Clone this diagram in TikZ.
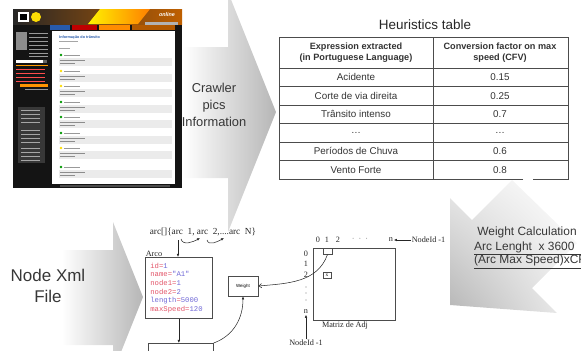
\documentclass[tikz,border=0pt]{standalone}
\usepackage{fontspec}
\setmainfont{Liberation Sans}
\newfontfamily\serifa{Liberation Serif}
\newfontfamily\monoa{Liberation Mono}
\usepackage{xcolor}
\usetikzlibrary{arrows.meta,positioning,shapes.geometric,shadings}

\definecolor{bigarrow}{RGB}{182,182,182}
\definecolor{labelgray}{RGB}{55,55,55}
\definecolor{codered}{RGB}{226,84,104}
\definecolor{codeblue}{RGB}{112,104,214}
\definecolor{webblue}{RGB}{40,90,170}

\begin{document}
\begin{tikzpicture}[x=0.3mm, y=0.3mm,
  bigtext/.style={text=labelgray, align=center},
  headcell/.style={font=\bfseries\fontsize{7.8}{9.4}\selectfont, text=black!80, align=center},
  cell/.style={font=\fontsize{8.4}{10}\selectfont, text=black!80},
  small/.style={font=\serifa\fontsize{7}{8}\selectfont, text=black!85, inner sep=0.5pt},
  diabox/.style={draw=black!70, line width=0.6pt, rectangle},
  tip/.style={-{Latex[length=2.6pt,width=2.2pt]}, black!85, line width=0.45pt},
  openarrow/.style={-{Straight Barb[length=2.4pt,width=3.6pt]}, black!85, line width=0.45pt}
]
\useasboundingbox (0,0) rectangle (581,-350);
\clip (0,0) rectangle (581,-350);

% big gray arrows
\shade[left color=white, right color=bigarrow] (183,-47) -- (228,-47) -- (228,8) -- (276,-112)
  -- (228,-232) -- (228,-178) -- (183,-178) -- cycle;
\shade[left color=white, right color=bigarrow] (62,-250) -- (113,-250) -- (113,-222) -- (143,-297)
  -- (113,-372) -- (113,-345) -- (62,-345) -- cycle;
\shade[upper right=white, lower left=bigarrow, upper left=black!8, lower right=black!6]
  (450,-305) -- (450,-198) -- (472,-220) -- (512,-180) -- (577,-243) -- (532,-288) -- (557,-313) -- cycle;

% web page screenshot
\fill[black!92] (13,-9) rectangle (182,-188);
\shade[left color=black!85, right color=orange!75!black] (13,-9) rectangle (182,-24);
\shade[left color=yellow!90!orange, right color=orange] (100,-9) -- (150,-9) -- (138,-24) -- (88,-24) -- cycle;
\fill[white] (18,-12) rectangle (29,-22);
\fill[black] (20,-14) rectangle (27,-20);
\fill[yellow!80!orange] (36,-17) circle (5);
\node[font=\bfseries\itshape\fontsize{4.6}{5}\selectfont, text=white] (online) at (167,-15) {online};
\fill[black!30] (145,-22) rectangle (178,-25);
\fill[webblue] (50,-25) rectangle (70,-30);
\fill[red!75!black] (72,-25) rectangle (97,-30);
\fill[orange!90!yellow] (99,-25) rectangle (130,-30);
\fill[orange!70!black] (132,-25) rectangle (175,-30);
\fill[white] (52,-31) rectangle (175,-184);
\node[font=\bfseries\fontsize{3.2}{3.5}\selectfont, text=webblue, anchor=west, inner sep=0pt] (webtitle) at (59,-37) {Informação do trânsito};
\fill[black!35] (59,-41) rectangle (78,-42);
\fill[black!35] (59,-48) rectangle (70,-49);
\foreach \yy/\dot in {55/green!60!black, 71/yellow!80!orange, 86/yellow!80!orange, 102/green!60!black,
  117/green!60!black, 133/green!60!black, 148/yellow!80!orange, 167/green!60!black}{
  \fill[\dot] (61,-\yy) circle (1.3);
  \fill[black!40] (64,-\yy+0.5) rectangle (80,-\yy-0.5);
  \fill[black!8] (59,-\yy-3) rectangle (172,-\yy-11);
  \fill[black!45] (60,-\yy-5) rectangle (85,-\yy-6);
  \fill[black!45] (60,-\yy-8) rectangle (75,-\yy-9);
}
% left column of the page
\fill[black!45] (16,-32) rectangle (27,-50);
\foreach \yy in {33,37,41,45,49,53,56}{\fill[black!40] (29,-\yy) rectangle (48,-\yy-1);}
\fill[white] (16,-60) rectangle (43,-63);
\fill[black!60] (43,-60) rectangle (47,-63);
\fill[orange!80!yellow] (16,-65) rectangle (48,-66);
\foreach \yy in {69,73,77,81}{\fill[red!70] (16,-\yy) rectangle (45,-\yy-1.2);}
\fill[orange!85!yellow] (20,-84) rectangle (48,-87);
\fill[black!40] (25,-89) rectangle (48,-90);
\fill[black!78] (18,-107) rectangle (45,-163);
\foreach \yy in {110,114,118,122,130,134,138,142,148,152,156,160}{\fill[black!35] (21,-\yy) rectangle (40,-\yy-1);}
\fill[black!70] (60,-185) rectangle (170,-187);

% left labels
\node[bigtext, font=\fontsize{11}{14.4}\selectfont] (crawler) at (214,-105) {Crawler\\pics\\Information};
\node[bigtext, font=\fontsize{14.5}{17.5}\selectfont] (xmlfile) at (48,-286) {Node Xml\\File};

% heuristics table
\node[font=\fontsize{11.5}{13}\selectfont, text=black!85] (tabtitle) at (425,-25) {Heuristics table};
\draw[black!70, line width=0.6pt] (523,-179) -- (279,-179) -- (279,-37) -- (568,-37) -- (568,-179) -- (533,-179);
\draw[black!70, line width=0.6pt] (433,-37) -- (433,-179);
\foreach \yy in {68,86.5,105,123.5,142,160.5}{
  \draw[black!70, line width=0.6pt] (279,-\yy) -- (568,-\yy);
}
\node[headcell] (exprhead) at (356,-52.5) {Expression extracted\\(in Portuguese Language)};
\node[headcell] (cfvhead) at (500,-52.5) {Conversion factor on max\\speed (CFV)};
\foreach \expr/\cfv [count=\i] in {Acidente/0.15, Corte de via direita/0.25, Trânsito intenso/0.7,
  \ldots/\ldots, Períodos de Chuva/0.6, Vento Forte/0.8}{
  \node[cell] (expr\i) at (356,{-58.75-18.5*\i}) {\expr};
  \node[cell] (cfv\i) at (500,{-58.75-18.5*\i}) {\cfv};
}

% weight calculation
\node[bigtext, font=\fontsize{10.2}{12}\selectfont] (wcalc) at (527,-232) {Weight Calculation};
\node[bigtext, font=\fontsize{10.2}{12}\selectfont, anchor=west, inner sep=0pt] (wnum) at (474,-247) {Arc Lenght\ \ x 3600};
\node[bigtext, font=\fontsize{10.2}{12}\selectfont, anchor=west, inner sep=0pt] (wden) at (474,-262) {\underline{(Arc Max Speed)xCFV}};
\draw[labelgray, line width=0.5pt] (wnum.south west) ++(0,-1.5) -- ++(140,0);

% arc structure
\node[small, font=\serifa\fontsize{7.9}{9}\selectfont, anchor=west] (arcs) at (149,-232) {arc[]\{arc\ \ 1, arc\ \ 2,....arc\ \ N\}};
\coordinate (a0) at (181,-239);
\coordinate (a1) at (200,-238);
\coordinate (a2) at (207,-240);
\coordinate (a3) at (224,-238);
\draw[tip] (a0) to[out=-75, in=-150] (a1);
\draw[tip] (a2) to[out=-75, in=-150] (a3);
\node[diabox, anchor=north west, minimum width=20.1mm, minimum height=18.3mm, text width=17.1mm,
  inner xsep=1.5mm, align=left, font=\monoa\fontsize{6.2}{7.4}\selectfont] (arco) at (145,-257)
  {\textcolor{codered}{id=}\textcolor{codeblue}{1}\\
   \textcolor{codered}{name=}\textcolor{codeblue}{"A1"}\\
   \textcolor{codered}{node1=}\textcolor{codeblue}{1}\\
   \textcolor{codered}{node2=}\textcolor{codeblue}{2}\\
   \textcolor{codeblue}{length}\textcolor{codered}{=}\textcolor{codeblue}{5000}\\
   \textcolor{codered}{maxSpeed=}\textcolor{codeblue}{120}};
\node[small, anchor=south west] (arcolabel) at (arco.north west) {Arco};
\coordinate (adown) at (178,-240);
\draw[tip] (adown) -- (adown |- arco.north);
\node[diabox, anchor=north west, minimum width=19.5mm, minimum height=8mm] (adjbox) at (148,-343) {};
\draw[tip] (arco.south) -- (arco.south |- adjbox.north);
\node[diabox, minimum width=9mm, minimum height=6mm, font=\fontsize{3.8}{4}\selectfont] (weight) at (243,-286) {Weight};
\draw[tip] (adjbox.north east) to[out=20, in=-90] (weight.south);

% adjacency matrix
\node[diabox, anchor=north west, minimum width=24.6mm, minimum height=21.6mm] (adj) at (313,-248) {};
\node[small] (c0) at (318,-240) {0};
\node[small] (c1) at (327,-240) {1};
\node[small] (c2) at (338,-240) {2};
\node[small, text=black!50] (cdots) at (360,-240) {·\ \ ·\ \ ·};
\node[small] (cn) at (391,-240) {n};
\node[small] (r0) at (306,-254) {0};
\node[small] (r1) at (306,-264) {1};
\node[small] (r2) at (306,-275) {2};
\foreach \yy in {287,293,300}{\fill[black!50] (306,-\yy) circle (0.6);}
\node[small] (rn) at (306,-312) {n};
\node[diabox, line width=0.5pt, minimum width=2.7mm, minimum height=1.8mm, inner sep=0pt, anchor=north] (cell1) at (327.5,-248) {};
\node[diabox, line width=0.5pt, minimum width=2.4mm, minimum height=1.8mm, inner sep=0pt,
  font=\serifa\fontsize{4.5}{5}\selectfont] (cellx) at (327,-275) {x};
\node[small] (mlabel) at (345,-326) {Matriz de Adj};
\node[small, anchor=west] (nodeidr) at (411,-240) {NodeId -1};
\draw[tip] (nodeidr.west) -- (cn.east);
\node[small] (nodeidb) at (306,-343) {NodeId -1};
\draw[tip] (nodeidb.north) -- (rn.south);
\draw[openarrow] (cell1.south) to[out=-110, in=5] (weight.east);
\end{tikzpicture}
\end{document}
